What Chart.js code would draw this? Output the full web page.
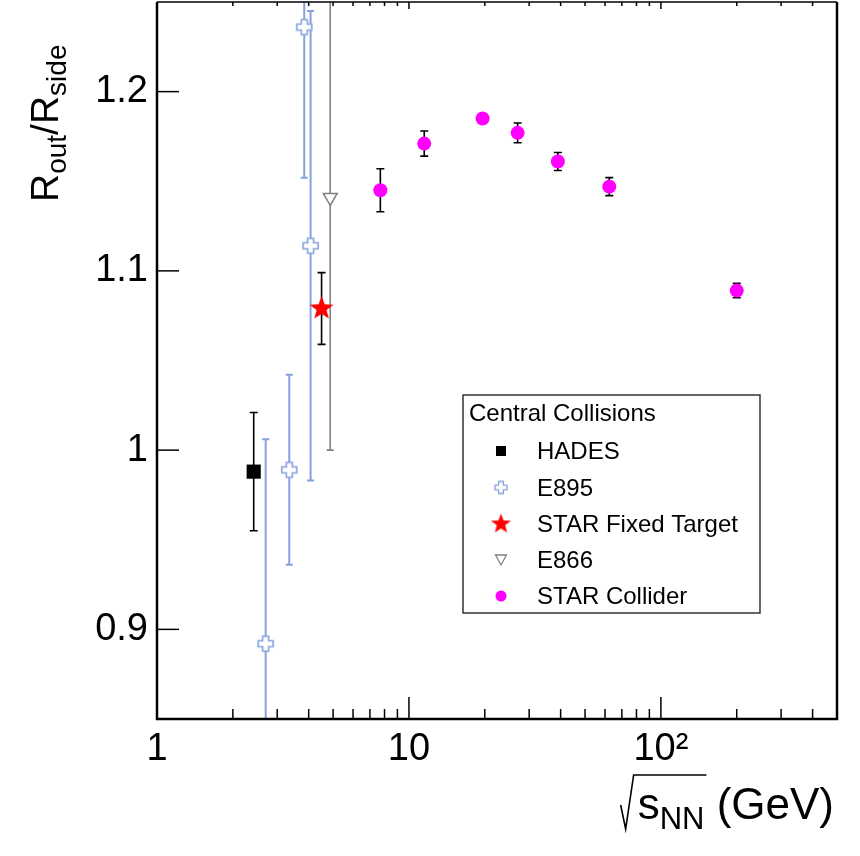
<!DOCTYPE html>
<html><head><meta charset="utf-8">
<script src="https://cdn.jsdelivr.net/npm/chart.js@4.4.1/dist/chart.umd.min.js"></script>
<style>html,body{margin:0;padding:0;background:#fff;}canvas{display:block}</style>
</head><body>
<canvas id="c" width="860" height="856"></canvas>
<script>
const FONT = "'Liberation Sans', Arial, Helvetica, sans-serif";

// ---- axis ticks ----
const xTickValues = [1, 10, 100];
const xTickLabels = ['1', '10', '10\u00B2'];
const xMinorTicks = [2,3,4,5,6,7,8,9,20,30,40,50,60,70,80,90,200,300,400];
const yTickValues = [0.9, 1.0, 1.1, 1.2];
const yTickLabels = ['0.9', '1', '1.1', '1.2'];

// ---- data ----
const hadesX = [2.42];
const hadesY = [0.988];
const hadesErr = [0.033];

const e895X = [2.7, 3.35, 3.84, 4.07];
const e895Y = [0.892, 0.989, 1.236, 1.114];
const e895Err = [0.114, 0.053, 0.084, 0.131];

const starFtX = [4.5];
const starFtY = [1.079];
const starFtErr = [0.020];

const e866X = [4.87];
const e866Y = [1.141];
const e866Err = [0.141];

const colliderX = [7.7, 11.5, 19.6, 27, 39, 62.4, 200];
const colliderY = [1.145, 1.171, 1.185, 1.177, 1.161, 1.147, 1.089];
const colliderErr = [0.012, 0.007, 0.002, 0.0055, 0.005, 0.005, 0.004];

const legendTitle = 'Central Collisions';

const E895_COLOR = '#86a2dc';

function pts(xs, ys){ return xs.map((x,i)=>({x:x, y:ys[i]})); }

function makeCross(w, L, color, lw){
  const s = Math.ceil(2*L + 4);
  const cv = document.createElement('canvas'); cv.width = s; cv.height = s;
  const g = cv.getContext('2d'); const c = s/2;
  g.beginPath();
  g.moveTo(c-w, c-L); g.lineTo(c+w, c-L); g.lineTo(c+w, c-w); g.lineTo(c+L, c-w);
  g.lineTo(c+L, c+w); g.lineTo(c+w, c+w); g.lineTo(c+w, c+L); g.lineTo(c-w, c+L);
  g.lineTo(c-w, c+w); g.lineTo(c-L, c+w); g.lineTo(c-L, c-w); g.lineTo(c-w, c-w); g.closePath();
  g.fillStyle = '#fff'; g.fill(); g.strokeStyle = color; g.lineWidth = lw; g.stroke();
  return cv;
}
function makeStar(R, r, color){
  const s = Math.ceil(2*R + 2);
  const cv = document.createElement('canvas'); cv.width = s; cv.height = s;
  const g = cv.getContext('2d'); const c = s/2;
  g.beginPath();
  for (let k=0;k<10;k++){
    const ang = -Math.PI/2 + k*Math.PI/5; const rr = (k%2===0)?R:r;
    const px = c + rr*Math.cos(ang), py = c + rr*Math.sin(ang);
    if (k===0) g.moveTo(px,py); else g.lineTo(px,py);
  }
  g.closePath(); g.fillStyle = color; g.fill();
  return cv;
}
const crossImg = makeCross(3, 7.5, E895_COLOR, 1.6);
const crossImgSmall = makeCross(2.4, 6, E895_COLOR, 1.3);
const starImg = makeStar(12.5, 5.2, '#ff0000');
const starImgSmall = makeStar(10.5, 4.4, '#ff0000');

const datasets = [
  {label:'HADES', data:pts(hadesX,hadesY), errors:hadesErr, errColor:'#000', errWidth:1.6, capW:4,
   pointStyle:'rect', pointRadius:10, backgroundColor:'#000', borderColor:'#000', borderWidth:0},
  {label:'E895', data:pts(e895X,e895Y), errors:e895Err, errColor:E895_COLOR, errWidth:2, capW:3.5,
   pointStyle:crossImg, pointRadius:8},
  {label:'STAR Fixed Target', data:pts(starFtX,starFtY), errors:starFtErr, errColor:'#000', errWidth:1.6, capW:4,
   pointStyle:starImg, pointRadius:12},
  {label:'E866', data:pts(e866X,e866Y), errors:e866Err, errColor:'#808080', errWidth:1.6, capW:3.5,
   pointStyle:'triangle', rotation:180, pointRadius:8, backgroundColor:'#fff', borderColor:'#808080', borderWidth:1.5},
  {label:'STAR Collider', data:pts(colliderX,colliderY), errors:colliderErr, errColor:'#000', errWidth:1.6, capW:4,
   pointStyle:'circle', pointRadius:7, backgroundColor:'#ff00ff', borderColor:'#ff00ff', borderWidth:0}
];
datasets.forEach(d=>{ d.showLine=false; d.pointHoverRadius=d.pointRadius; });

const errorBars = {
  id:'errorBars',
  beforeDatasetsDraw(chart){
    const {ctx, chartArea:a, scales:{y}} = chart;
    ctx.save();
    ctx.beginPath(); ctx.rect(a.left, a.top, a.right-a.left, a.bottom-a.top); ctx.clip();
    chart.data.datasets.forEach((ds,i)=>{
      const meta = chart.getDatasetMeta(i);
      meta.data.forEach((el,j)=>{
        const v = ds.data[j].y, e = ds.errors[j];
        const yt = y.getPixelForValue(v+e), yb = y.getPixelForValue(v-e);
        ctx.strokeStyle = ds.errColor; ctx.lineWidth = ds.errWidth;
        ctx.beginPath();
        ctx.moveTo(el.x, yt); ctx.lineTo(el.x, yb);
        ctx.moveTo(el.x-ds.capW, yt); ctx.lineTo(el.x+ds.capW, yt);
        ctx.moveTo(el.x-ds.capW, yb); ctx.lineTo(el.x+ds.capW, yb);
        ctx.stroke();
      });
    });
    ctx.restore();
  }
};

function seg(ctx, x1,y1,x2,y2){ ctx.beginPath(); ctx.moveTo(x1,y1); ctx.lineTo(x2,y2); ctx.stroke(); }

const frame = {
  id:'frame',
  afterDraw(chart){
    const {ctx, chartArea:a, scales:{x,y}} = chart;
    ctx.save();
    ctx.strokeStyle = '#000';
    ctx.lineWidth = 1.5;
    xMinorTicks.forEach(v=>{ const p = x.getPixelForValue(v); seg(ctx,p,a.bottom,p,a.bottom-10); seg(ctx,p,a.top,p,a.top+4); });
    xTickValues.forEach(v=>{ const p = x.getPixelForValue(v); seg(ctx,p,a.bottom,p,a.bottom-22); seg(ctx,p,a.top,p,a.top+7); });
    yTickValues.forEach(v=>{ const p = y.getPixelForValue(v); seg(ctx,a.left,p,a.left+22,p); });
    // frame
    ctx.lineWidth = 2.5;
    seg(ctx, a.left, a.top, a.left, a.bottom+1);
    seg(ctx, a.left-1, a.bottom, a.right+1, a.bottom);
    seg(ctx, a.right, a.top, a.right, a.bottom+1);
    ctx.lineWidth = 1.5;
    seg(ctx, a.left, a.top, a.right, a.top);

    // y title
    ctx.fillStyle = '#000';
    ctx.save();
    ctx.translate(58, 202); ctx.rotate(-Math.PI/2);
    ctx.textBaseline = 'alphabetic'; ctx.textAlign = 'left';
    const parts = [['R',0],['out',1],['/',0],['R',0],['side',1]];
    let cx = 0;
    parts.forEach(([t,sub])=>{
      ctx.font = (sub? '28px ' : '39px ') + FONT;
      ctx.fillText(t, cx, sub? 8 : 0);
      cx += ctx.measureText(t).width;
    });
    ctx.restore();

    // x title
    ctx.textBaseline = 'alphabetic'; ctx.textAlign = 'left';
    ctx.font = '44px ' + FONT; const wS = ctx.measureText('s').width; const wG = ctx.measureText(' (GeV)').width;
    ctx.font = '31px ' + FONT; const wN = ctx.measureText('NN').width;
    const xEnd = 834; const xG = xEnd - wG; const xN = xG - wN; const xS = xN - wS;
    ctx.font = '44px ' + FONT; ctx.fillText('s', xS, 819); ctx.fillText(' (GeV)', xG, 819);
    ctx.font = '31px ' + FONT; ctx.fillText('NN', xN, 829);
    ctx.lineWidth = 1.6;
    ctx.beginPath();
    ctx.moveTo(xS-17, 805); ctx.lineTo(xS-12, 829); ctx.lineTo(xS-4, 775); ctx.lineTo(xN+wN+2, 775);
    ctx.stroke();

    // legend
    const L = {x:463, y:395, w:297, h:218};
    ctx.fillStyle = '#fff'; ctx.fillRect(L.x, L.y, L.w, L.h);
    ctx.strokeStyle = '#333'; ctx.lineWidth = 1.5; ctx.strokeRect(L.x, L.y, L.w, L.h);
    ctx.fillStyle = '#000'; ctx.font = '24px ' + FONT;
    ctx.fillText(legendTitle, 469, 421);
    const base = [459, 495.5, 532, 568, 604];
    const mx = 501;
    chart.data.datasets.forEach((ds,i)=>{
      const by = base[i]; const my = by - 8;
      ctx.fillStyle = '#000'; ctx.font = '24px ' + FONT;
      ctx.fillText(ds.label, 537, by);
      if (i===0){ ctx.fillRect(mx-5, my-5, 10, 10); }
      else if (i===1){ ctx.drawImage(crossImgSmall, mx-crossImgSmall.width/2, my-crossImgSmall.height/2); }
      else if (i===2){ ctx.drawImage(starImgSmall, mx-starImgSmall.width/2, my-starImgSmall.height/2); }
      else if (i===3){ ctx.beginPath(); ctx.moveTo(mx-5.5, my-5); ctx.lineTo(mx+5.5, my-5); ctx.lineTo(mx, my+5); ctx.closePath();
        ctx.fillStyle='#fff'; ctx.fill(); ctx.strokeStyle='#808080'; ctx.lineWidth=1.3; ctx.stroke(); }
      else { ctx.beginPath(); ctx.arc(mx, my, 5.5, 0, Math.PI*2); ctx.fillStyle='#ff00ff'; ctx.fill(); }
    });
    ctx.restore();
  }
};

new Chart(document.getElementById('c'), {
  type:'scatter',
  data:{datasets:datasets},
  plugins:[errorBars, frame],
  options:{
    responsive:false, animation:false, events:[],
    layout:{autoPadding:false, padding:{left:0, right:23, top:2, bottom:0}},
    plugins:{legend:{display:false}, tooltip:{enabled:false}},
    scales:{
      x:{type:'logarithmic', position:'bottom', min:1, max:500,
         grid:{display:false, drawTicks:false}, border:{display:false},
         ticks:{font:{family:FONT, size:38}, color:'#000', padding:8, autoSkip:false, maxRotation:0, minRotation:0,
                callback:(v,i)=>xTickLabels[i]},
         afterBuildTicks:(s)=>{ s.ticks = xTickValues.map(v=>({value:v})); },
         afterFit:(s)=>{ s.height = 137; s.paddingLeft = 0; s.paddingRight = 0; }
      },
      y:{type:'linear', position:'left', min:0.85, max:1.25,
         grid:{display:false, drawTicks:false}, border:{display:false},
         ticks:{font:{family:FONT, size:38}, color:'#000', padding:9, autoSkip:false,
                callback:(v,i)=>yTickLabels[i]},
         afterBuildTicks:(s)=>{ s.ticks = yTickValues.map(v=>({value:v})); },
         afterFit:(s)=>{ s.width = 157; s.paddingTop = 0; s.paddingBottom = 0; }
      }
    }
  }
});
</script>
</body></html>
